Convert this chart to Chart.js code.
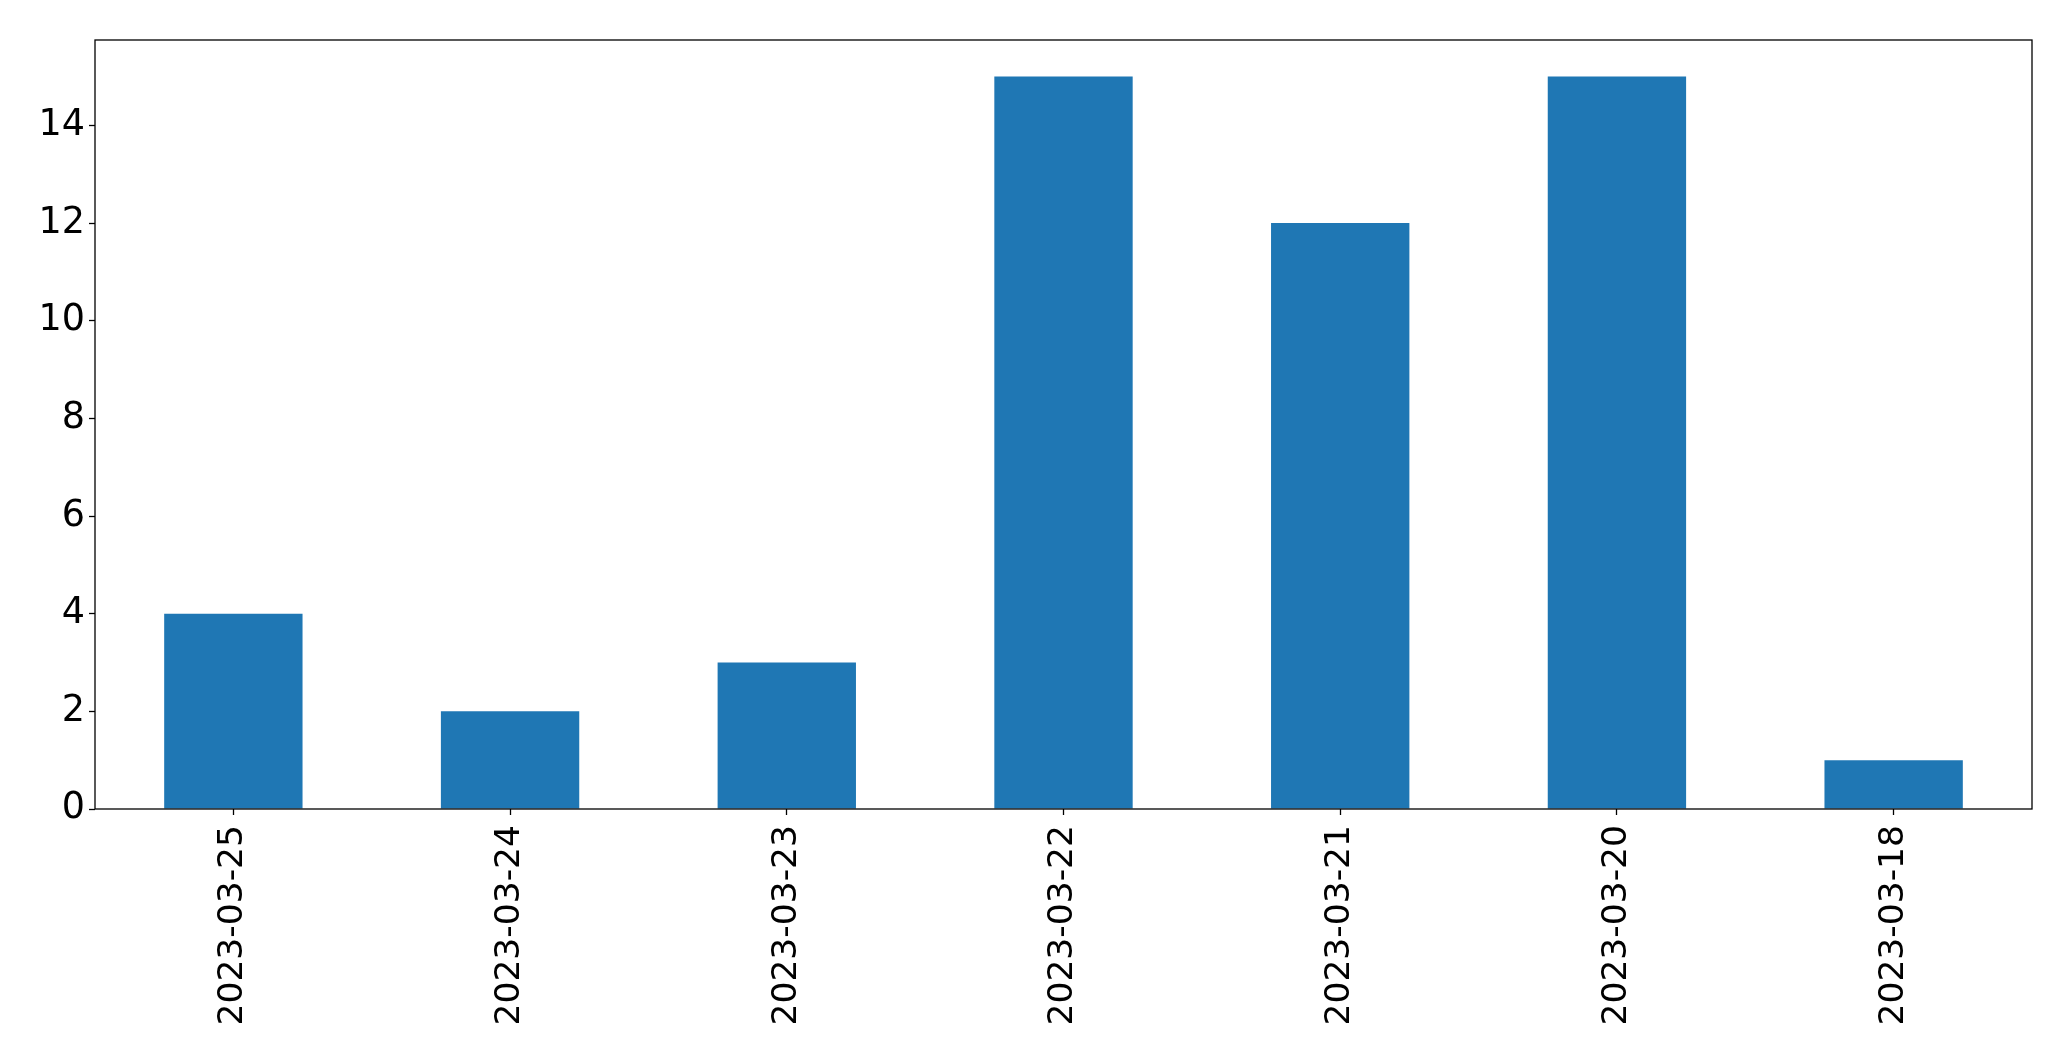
<!DOCTYPE html>
<html>
<head>
<meta charset="utf-8">
<style>
  html, body { margin: 0; padding: 0; background: #ffffff; }
  #wrap { width: 2071px; height: 1061px; position: relative; }
</style>
<script src="https://cdn.jsdelivr.net/npm/chart.js@4.4.0/dist/chart.umd.min.js"></script>
</head>
<body>
<div id="wrap"><canvas id="c" width="2071" height="1061"></canvas></div>
<script>
const categories = ["2023-03-25", "2023-03-24", "2023-03-23", "2023-03-22", "2023-03-21", "2023-03-20", "2023-03-18"];
const counts = [4, 2, 3, 15, 12, 15, 1];
const yTicks = [0, 2, 4, 6, 8, 10, 12, 14];
const yMax = 15.75;

const frame = {
  id: 'frame',
  afterDatasetsDraw(chart) {
    const a = chart.chartArea, ctx = chart.ctx;
    ctx.save();
    ctx.strokeStyle = '#000000';
    ctx.lineWidth = 1.3;
    ctx.strokeRect(a.left, a.top, a.right - a.left, a.bottom - a.top);
    ctx.restore();
  }
};

Chart.defaults.font.family = "'DejaVu Sans', sans-serif";
Chart.defaults.color = '#000000';

new Chart(document.getElementById('c'), {
  type: 'bar',
  data: {
    labels: categories,
    datasets: [{
      data: counts,
      backgroundColor: '#1f77b4',
      borderWidth: 0,
      categoryPercentage: 1.0,
      barPercentage: 0.5
    }]
  },
  options: {
    responsive: false,
    animation: false,
    devicePixelRatio: 1,
    layout: { padding: { top: 40, right: 39, left: 0, bottom: 0 } },
    plugins: { legend: { display: false }, tooltip: { enabled: false } },
    scales: {
      x: {
        type: 'category',
        offset: true,
        grid: { display: true, drawOnChartArea: false, offset: false, tickLength: 6, tickColor: '#000', tickWidth: 1.3 },
        border: { display: false },
        ticks: { minRotation: 90, maxRotation: 90, autoSkip: false, padding: 10, font: { size: 34.5 }, color: '#000' },
        afterFit(scale) { scale.height = 252; }
      },
      y: {
        min: 0,
        max: yMax,
        grid: { display: true, drawOnChartArea: false, tickLength: 6, tickColor: '#000', tickWidth: 1.3 },
        border: { display: false },
        afterBuildTicks(scale) { scale.ticks = yTicks.map(v => ({ value: v })); },
        ticks: { padding: 4, font: { size: 36.5 }, color: '#000' },
        afterFit(scale) { scale.width = 95; }
      }
    }
  },
  plugins: [frame]
});
</script>
</body>
</html>
